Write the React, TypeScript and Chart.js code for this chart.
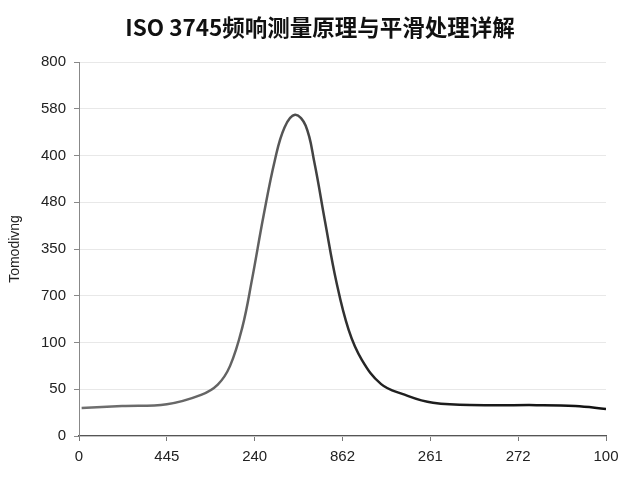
import { useEffect, useRef } from 'react';
import { Chart, registerables } from 'chart.js';

Chart.register(...registerables);

// x positions on a 0..600 axis, y on a 0..800 axis
const xValues = [3, 49, 100, 139, 158, 172, 186, 197, 210, 223, 234, 246, 258, 268, 280, 293, 307, 322, 344, 368, 403, 462, 521, 565, 600];
const yValues = [60, 64, 68, 88, 110, 150, 233, 335, 470, 590, 660, 687, 664, 585, 460, 330, 227, 163, 111, 90, 71, 66, 66, 64, 58];

const xTickLabels = ['0', '445', '240', '862', '261', '272', '100'];
const yTickLabels = ['0', '50', '100', '700', '350', '480', '400', '580', '800'];

const TITLE = 'ISO 3745频响测量原理与平滑处理详解';

const titlePlugin = {
  id: 'centerTitle',
  afterDraw(chart: any) {
    const c = chart.ctx;
    c.save();
    c.fillStyle = '#111';
    c.font = "bold 22.5px 'Noto Sans CJK SC', sans-serif";
    c.textAlign = 'center';
    c.textBaseline = 'middle';
    c.fillText(TITLE, chart.width / 2, 27);
    c.restore();
  },
};

const App: React.FC = () => {
  const canvasRef = useRef<HTMLCanvasElement | null>(null);
  const chartRef = useRef<Chart | null>(null);

  useEffect(() => {
    document.body.style.margin = '0';
    if (!canvasRef.current) return;
    const ctx = canvasRef.current.getContext('2d');
    if (!ctx) return;

    if (chartRef.current) chartRef.current.destroy();

    chartRef.current = new Chart(ctx, {
      type: 'line',
      data: {
        datasets: [
          {
            label: 'response',
            data: xValues.map((x, i) => ({ x, y: yValues[i] })),
            borderColor: (c: any) => {
              const area = c.chart.chartArea;
              if (!area) return '#555';
              const g = c.chart.ctx.createLinearGradient(area.left, 0, area.right, 0);
              g.addColorStop(0, '#707070');
              g.addColorStop(0.35, '#606060');
              g.addColorStop(0.55, '#222');
              g.addColorStop(1, '#111');
              return g;
            },
            borderWidth: 2.5,
            pointRadius: 0,
            fill: false,
            tension: 0.4,
          },
        ],
      },
      options: {
        animation: false,
        responsive: false,
        layout: { padding: { left: 0, right: 34, top: 62, bottom: 0 } },
        plugins: {
          legend: { display: false },
          tooltip: { enabled: false },
          title: { display: false },
        },
        scales: {
          x: {
            type: 'linear',
            min: 0,
            max: 600,
            ticks: {
              stepSize: 100,
              color: '#222',
              font: { family: "'Liberation Sans', Arial, sans-serif", size: 15 },
              padding: 7,
              maxRotation: 0,
              callback: (v: any) => xTickLabels[Math.round(Number(v) / 100)] ?? '',
            },
            grid: { drawOnChartArea: false, tickLength: 5, tickColor: '#777' },
            border: { color: '#555', width: 1.2 },
            afterFit: (s: any) => {
              s.height = 44;
            },
          },
          y: {
            min: 0,
            max: 800,
            ticks: {
              stepSize: 100,
              color: '#222',
              font: { family: "'Liberation Sans', Arial, sans-serif", size: 15 },
              padding: 8,
              callback: (v: any) => yTickLabels[Math.round(Number(v) / 100)] ?? '',
            },
            grid: { color: '#e8e8e8', tickLength: 5, tickColor: '#888' },
            border: { color: '#888', width: 1 },
            title: {
              display: true,
              text: 'Tomodivng',
              color: '#222',
              font: { family: "'Liberation Sans', Arial, sans-serif", size: 14 },
              padding: { top: 7, bottom: 10 },
            },
            afterFit: (s: any) => {
              s.width = 79;
            },
          },
        },
      },
      plugins: [titlePlugin],
    });

    return () => {
      if (chartRef.current) {
        chartRef.current.destroy();
        chartRef.current = null;
      }
    };
  }, []);

  return (
    <div style={{ width: 640, height: 480, background: '#fff' }}>
      <canvas ref={canvasRef} width={640} height={480}></canvas>
    </div>
  );
};

export default App;
